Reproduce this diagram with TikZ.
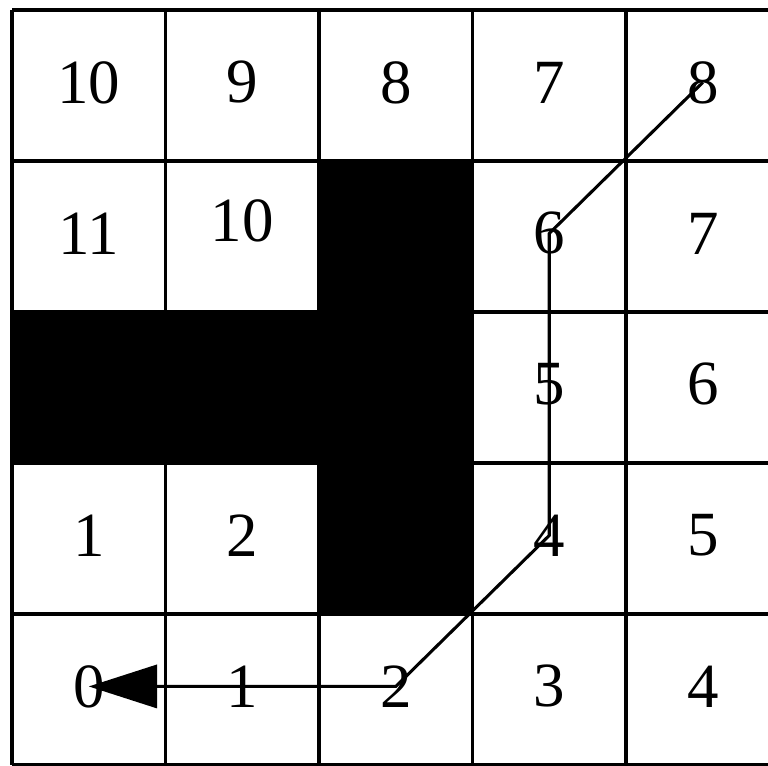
\documentclass[tikz,border=0pt]{standalone}
\usepackage{fontspec}
\setmainfont{Liberation Serif}
\usetikzlibrary{arrows.meta}

\begin{document}
\begin{tikzpicture}[x=3cm, y=2.9511cm, every node/.style={font=\fontsize{35}{40}\selectfont, inner sep=0pt},
		route/.style={line width=1.7pt, -{Triangle[length=38pt, width=24pt]}}]
				\clip (-0.0782,-0.0066) rectangle (4.925,5.066);
				\fill (2,1) rectangle (3,4);
				\fill (0,2) rectangle (3,3);
				\draw[line width=2pt, step={(1,1)}] (0,0) grid (5,5);
				\foreach \v/\i/\j in {10/0/4, 9/1/4, 8/2/4, 7/3/4, 8/4/4,
						11/0/3, 6/3/3, 7/4/3, 5/3/2, 6/4/2,
						1/0/1, 2/1/1, 4/3/1, 5/4/1,
						0/0/0, 1/1/0, 2/2/0, 3/3/0, 4/4/0}
					\node (n\i\j) at (\i+.5,\j+.52) {\v};
				\node (n13) at (1.5,3.6) {10};
				\draw[route] (n44.center) -- (n33.center) -- (n31.center) -- (n20.center) -- (n00.center);
			\end{tikzpicture}
\end{document}
